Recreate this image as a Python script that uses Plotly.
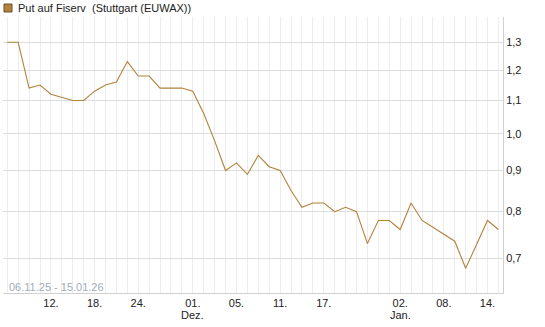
import plotly.graph_objects as go

dates = ["06.11", "07.11", "10.11", "11.11", "12.11", "13.11", "14.11", "17.11", "18.11", "19.11",
         "20.11", "21.11", "24.11", "25.11", "26.11", "27.11", "28.11", "01.12", "02.12", "03.12",
         "04.12", "05.12", "08.12", "09.12", "10.12", "11.12", "12.12", "15.12", "16.12", "17.12",
         "18.12", "19.12", "22.12", "23.12", "29.12", "30.12", "02.01", "05.01", "06.01", "07.01",
         "08.01", "09.01", "12.01", "13.01", "14.01", "15.01"]
values = [1.30, 1.30, 1.14, 1.15, 1.12, 1.11, 1.10, 1.10, 1.13, 1.15,
          1.16, 1.23, 1.18, 1.18, 1.14, 1.14, 1.14, 1.13, 1.06, 0.98,
          0.90, 0.92, 0.89, 0.94, 0.91, 0.90, 0.85, 0.81, 0.82, 0.82,
          0.80, 0.81, 0.80, 0.73, 0.78, 0.78, 0.76, 0.82, 0.78, 0.765,
          0.75, 0.735, 0.68, 0.73, 0.78, 0.76]
tick_labels = {"12.11": "12.", "18.11": "18.", "24.11": "24.", "01.12": "01.",
               "05.12": "05.", "11.12": "11.", "17.12": "17.", "02.01": "02.",
               "08.01": "08.", "14.01": "14."}
month_labels = {"01.12": "Dez.", "02.01": "Jan."}
y_ticks = [0.7, 0.8, 0.9, 1.0, 1.1, 1.2, 1.3]
y_tick_text = ["0,7", "0,8", "0,9", "1,0", "1,1", "1,2", "1,3"]
series_name = "Put auf Fiserv  (Stuttgart (EUWAX))"
range_text = "06.11.25 - 15.01.26"

line_color = "#b3823d"
font = "Liberation Sans, Arial, sans-serif"

fig = go.Figure()
fig.add_trace(go.Scatter(x=dates, y=values, mode="lines",
                         line=dict(color=line_color, width=1.1), showlegend=False))

W, H = 545, 327
ml, mr, mt, mb = 3, 42, 17, 34
pw, ph = W - ml - mr, H - mt - mb

def px_x(p):
    return (p - ml) / pw

def px_y(p):
    return (H - mb - p) / ph

annotations = [
    dict(text=series_name, xref="paper", yref="paper", x=px_x(16), y=px_y(8),
         xanchor="left", yanchor="middle", showarrow=False,
         font=dict(size=11, color="#222222")),
    dict(text=range_text, xref="paper", yref="paper", x=px_x(7), y=px_y(287),
         xanchor="left", yanchor="middle", showarrow=False,
         font=dict(size=11, color="#a3acbb")),
]
for d, m in month_labels.items():
    annotations.append(dict(text=m, xref="x", yref="paper", x=dates.index(d), y=px_y(315),
                            xanchor="center", yanchor="middle", showarrow=False,
                            font=dict(size=11, color="#222222")))

fig.update_layout(
    width=W, height=H,
    margin=dict(l=ml, r=mr, t=mt, b=mb),
    paper_bgcolor="white", plot_bgcolor="white",
    separators=",.",
    font=dict(family=font, size=11, color="#333333"),
    xaxis=dict(
        type="category",
        categoryorder="array", categoryarray=dates,
        tickmode="array", tickvals=dates,
        ticktext=[tick_labels.get(d, "") for d in dates],
        range=[-0.39, 45.42],
        showgrid=True, gridcolor="#ececec", gridwidth=1,
        showline=True, linecolor="#d0d0d0", linewidth=1,
        ticks="", ticklen=0,
        tickfont=dict(size=11, color="#222222"),
        zeroline=False, fixedrange=True,
    ),
    yaxis=dict(
        type="log", side="right",
        range=[-0.1982, 0.1454],
        tickmode="array", tickvals=y_ticks, ticktext=y_tick_text,
        showgrid=True, gridcolor="#dcdcdc", gridwidth=1,
        showline=True, linecolor="#d0d0d0", linewidth=1,
        ticks="", ticklen=0,
        tickfont=dict(size=11, color="#222222"),
        zeroline=False, fixedrange=True,
    ),
    shapes=[dict(type="rect", xref="paper", yref="paper",
                 x0=px_x(4), x1=px_x(12), y0=px_y(12), y1=px_y(4),
                 fillcolor="#b3823d", line=dict(color="#6e5128", width=1))],
    annotations=annotations,
)

fig.write_html("out.html")
